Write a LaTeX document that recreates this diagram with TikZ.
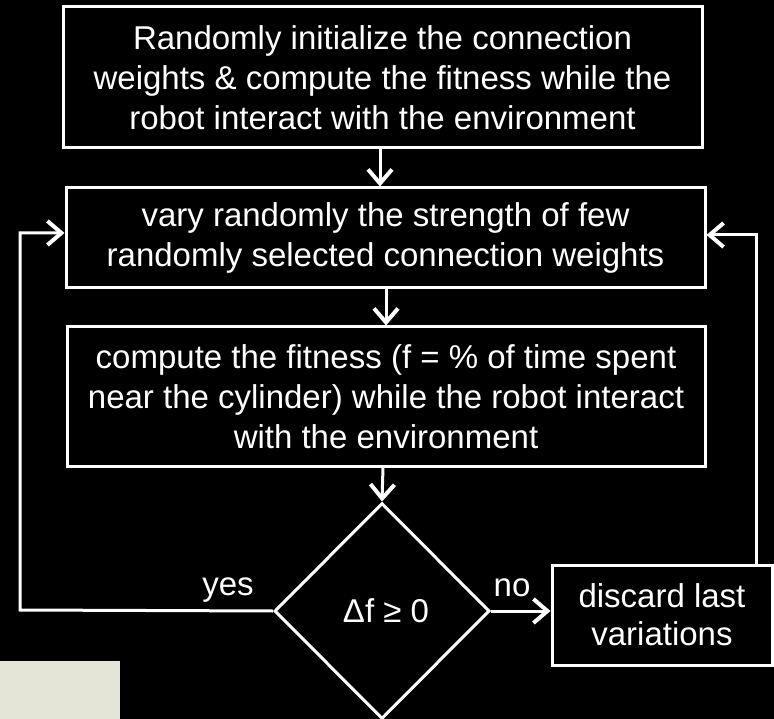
\documentclass[tikz,border=0pt]{standalone}
\usepackage{fontspec}
\setmainfont{Liberation Sans}
\usetikzlibrary{shapes.geometric,arrows.meta,calc}
\definecolor{beige}{HTML}{E4E5D6}
\begin{document}
\begin{tikzpicture}[x=1pt,y=-1pt,
  every node/.style={text=white},
  box/.style={draw=white, line width=3pt, fill=black, inner sep=0pt, align=center,
    font=\fontsize{33}{40}\selectfont},
  conn/.style={draw=white, line width=3pt},
  arr/.style={conn, -{Straight Barb[length=14pt,width=24pt,line width=4pt]}},
  lbl/.style={font=\fontsize{33}{38}\selectfont, inner sep=0pt}]
\fill[black] (0,0) rectangle (774,719);
\useasboundingbox (0,0) rectangle (774,719);
\fill[beige] (0,661) rectangle (120,719);

\node[box, minimum width=639pt, minimum height=141pt] (init) at (382.5,77.5)
  {Randomly initialize the connection\\weights \& compute the fitness while the\\robot interact with the environment};
\node[box, minimum width=639pt, minimum height=100pt] (vary) at (385.5,238)
  {vary randomly the strength of few\\randomly selected connection weights};
\node[box, minimum width=638pt, minimum height=139pt] (comp) at (386,396.5)
  {compute the fitness (f = \% of time spent\\near the cylinder) while the robot interact\\with the environment};
\node[box, diamond, minimum width=215pt, minimum height=216pt] (dec) at (382,611)
  {\hspace*{8pt}\raisebox{-8pt}{Δf ≥ 0}};
\node[box, minimum width=220pt, minimum height=100pt, font=\fontsize{33}{38}\selectfont] (disc) at (662,615)
  {discard last\\variations};

\coordinate (lp) at (20,610);
\coordinate (rp) at (756,235);

\draw[arr] (380,0 |- init.south) -- (380,0 |- vary.north);
\draw[arr] (386,0 |- vary.south) -- (386,0 |- comp.north);
\draw[arr] (383,0 |- comp.south) -- (dec.north);
\draw[arr] (dec.east) -- (dec.east -| disc.west);
\draw[arr] (dec.west) -- (lp) -- (lp |- 0,233) -- (vary.west |- 0,233);
\draw[arr] (rp |- disc.north) -- (rp) -- (vary.east |- rp);

\node[lbl] (yes) at (228,590) {yes};
\node[lbl] (no) at (512,588) {no};
\end{tikzpicture}
\end{document}
